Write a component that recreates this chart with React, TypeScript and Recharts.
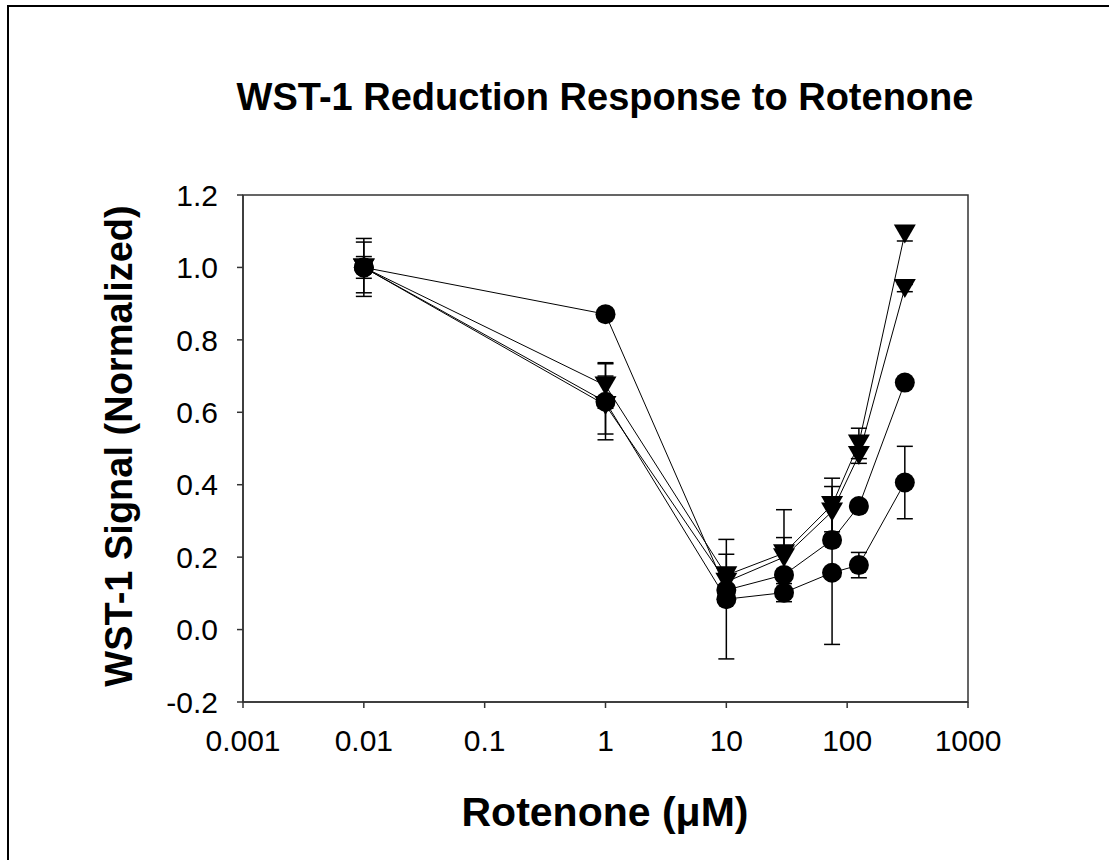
import React from 'react';
import {
  ScatterChart,
  Scatter,
  XAxis,
  YAxis,
  ErrorBar,
  ReferenceArea,
} from 'recharts';

// Rotenone concentrations (µM)
const concentrations = [0.01, 1, 10, 30, 75, 125, 300];

// two triangle series and two circle series
const tri1Values = [1.0, 0.674, 0.15, 0.211, 0.344, 0.514, 1.094];
const tri1Err = [0.07, 0.063, 0.058, 0.12, 0.074, 0.042, 0.021];
const tri2Values = [1.0, 0.62, 0.132, 0.2, 0.326, 0.482, 0.943];
const tri2Err = [0.03, 0.08, 0.03, 0.054, 0.069, 0.023, 0.01];
const circ1Values = [1.0, 0.871, 0.109, 0.151, 0.247, 0.341, 0.682];
const circ1Err = [0.015, 0.01, 0.015, 0.015, 0.015, 0.015, 0.01];
const circ2Values = [1.0, 0.629, 0.084, 0.102, 0.157, 0.178, 0.406];
const circ2Err = [0.08, 0.105, 0.165, 0.025, 0.198, 0.035, 0.1];

const xTicks = [0.001, 0.01, 0.1, 1, 10, 100, 1000];
const yTicks = [-0.2, 0, 0.2, 0.4, 0.6, 0.8, 1.0, 1.2];

const build = (vals: number[], errs: number[]) =>
  concentrations.map((x, i) => ({ x, y: vals[i], err: errs[i] }));

const FONT = '"Liberation Sans", Arial, sans-serif';

const CircleDot = (p: any) => <circle cx={p.cx} cy={p.cy} r={10} fill="#000" />;
const TriDown = (p: any) => (
  <path d={`M${p.cx - 11},${p.cy - 9} L${p.cx + 11},${p.cy - 9} L${p.cx},${p.cy + 10} Z`} fill="#000" />
);

const lineStyle = { stroke: '#000', strokeWidth: 1 };

export default function App() {
  const seriesList = [
    { key: 'c2', data: build(circ2Values, circ2Err), shape: CircleDot },
    { key: 'c1', data: build(circ1Values, circ1Err), shape: CircleDot },
    { key: 't2', data: build(tri2Values, tri2Err), shape: TriDown },
    { key: 't1', data: build(tri1Values, tri1Err), shape: TriDown },
  ];

  return (
    <div style={{ position: 'absolute', left: 0, top: 0, width: 1109, height: 860, background: '#fff', fontFamily: FONT, overflow: 'hidden' }}>
      <div style={{ position: 'absolute', left: 7, top: 5, right: -10, bottom: -10, borderLeft: '2px solid #000', borderTop: '2px solid #000' }} />
      <div style={{ position: 'absolute', left: 605, top: 97, transform: 'translate(-50%, -50%)', fontSize: 38, fontWeight: 'bold', whiteSpace: 'nowrap', color: '#000' }}>
        WST-1 Reduction Response to Rotenone
      </div>
      <div style={{ position: 'absolute', left: 119, top: 446, transform: 'translate(-50%, -50%) rotate(-90deg)', fontSize: 38, fontWeight: 'bold', whiteSpace: 'nowrap', color: '#000' }}>
        WST-1 Signal (Normalized)
      </div>
      <div style={{ position: 'absolute', left: 605, top: 812, transform: 'translate(-50%, -50%)', fontSize: 41, fontWeight: 'bold', whiteSpace: 'nowrap', color: '#000' }}>
        Rotenone (μM)
      </div>
      <div style={{ position: 'absolute', left: 0, top: 0 }}>
        <ScatterChart width={1109} height={860} margin={{ top: 195, right: 141, bottom: 98, left: 163 }}>
          <XAxis
            dataKey="x"
            type="number"
            scale="log"
            domain={[0.001, 1000]}
            ticks={xTicks}
            allowDataOverflow
            height={60}
            stroke="#333"
            strokeWidth={1.5}
            tickSize={6}
            tickMargin={22}
            tick={{ fontSize: 30, fill: '#000', fontFamily: FONT }}
            tickFormatter={(v) => String(v)}
          />
          <YAxis
            dataKey="y"
            type="number"
            domain={[-0.2, 1.2]}
            ticks={yTicks}
            allowDataOverflow
            width={80}
            stroke="#333"
            strokeWidth={1.5}
            tickSize={6}
            tickMargin={19}
            tick={{ fontSize: 30, fill: '#000', fontFamily: FONT }}
            tickFormatter={(v) => Number(v).toFixed(1)}
          />
          <ReferenceArea x1={0.001} x2={1000} y1={-0.2} y2={1.2} fill="none" stroke="#333" strokeWidth={1.5} />
          {seriesList.map((s) => (
            <Scatter
              key={s.key}
              data={s.data}
              line={lineStyle}
              shape={s.shape}
              isAnimationActive={false}
            >
              <ErrorBar dataKey="err" direction="y" width={8} stroke="#000" strokeWidth={1.5} />
            </Scatter>
          ))}
        </ScatterChart>
      </div>
    </div>
  );
}
